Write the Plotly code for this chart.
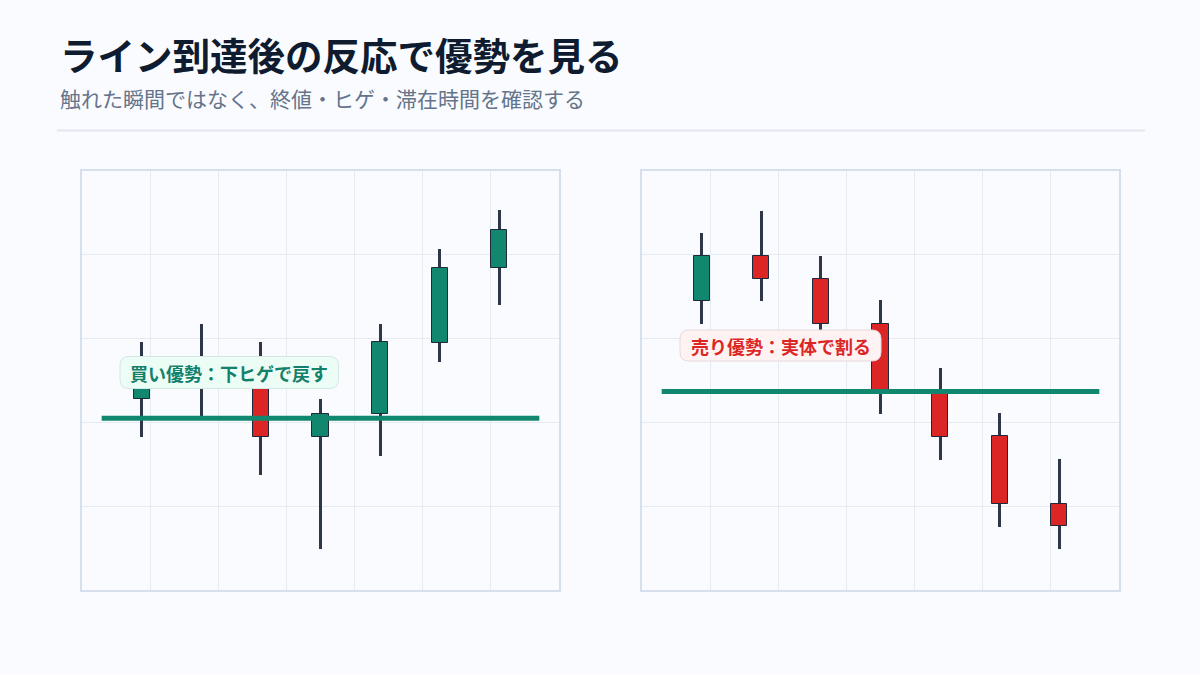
import plotly.graph_objects as go

W, H = 1200, 675

# ---------------- data ----------------
candles = [0, 1, 2, 3, 4, 5, 6]

buy_open  = [100.57, 101.00, 101.05, 99.66, 100.20, 101.90, 103.69]
buy_high  = [101.91, 102.36, 101.91, 100.57, 102.36, 104.15, 105.06]
buy_low   = [99.65, 100.10, 98.75, 96.98, 99.20, 101.44, 102.80]
buy_close = [101.20, 101.30, 99.66, 100.20, 101.91, 103.69, 104.60]
buy_level = 100.10

sell_open  = [102.90, 103.98, 103.43, 102.36, 100.68, 99.67, 98.05]
sell_high  = [104.51, 105.05, 103.98, 102.91, 101.29, 100.22, 99.13]
sell_low   = [102.35, 102.90, 102.08, 100.20, 99.11, 97.51, 96.97]
sell_close = [103.98, 103.43, 102.36, 100.75, 99.66, 98.05, 97.52]
sell_level = 100.74

line_span = [-0.67, 6.67]

title_text = "ライン到達後の反応で優勢を見る"
subtitle_text = "触れた瞬間ではなく、終値・ヒゲ・滞在時間を確認する"
buy_label = "買い優勢：下ヒゲで戻す"
sell_label = "売り優勢：実体で割る"

# ---------------- style ----------------
BG = "#f9fbff"
GREEN = "#12876f"
RED = "#dc2626"
WICK = "#2d3748"
OUTLINE = "#1e293b"
FONT = "Noto Sans CJK JP"


def px(x):
    return x / W


def py(y):
    return 1 - y / H


fig = go.Figure()


def add_panel(op, hi, lo, cl, level, xa, ya):
    fig.add_trace(go.Bar(
        x=candles, base=lo, y=[h - l for h, l in zip(hi, lo)],
        width=0.05, marker=dict(color=WICK, line=dict(width=0)),
        xaxis=xa, yaxis=ya, hoverinfo="skip", showlegend=False))
    fig.add_trace(go.Bar(
        x=candles, base=[min(o, c) for o, c in zip(op, cl)],
        y=[abs(c - o) for o, c in zip(op, cl)],
        width=0.27,
        marker=dict(color=[GREEN if c >= o else RED for o, c in zip(op, cl)],
                    line=dict(color=OUTLINE, width=1)),
        xaxis=xa, yaxis=ya, hoverinfo="skip", showlegend=False))
    fig.add_trace(go.Scatter(
        x=line_span, y=[level, level], mode="lines",
        line=dict(color=GREEN, width=5),
        xaxis=xa, yaxis=ya, hoverinfo="skip", showlegend=False))


add_panel(buy_open, buy_high, buy_low, buy_close, buy_level, "x", "y")
add_panel(sell_open, sell_high, sell_low, sell_close, sell_level, "x2", "y2")

ydom = [py(590), py(171)]
axis_common = dict(showline=True, mirror=True, linewidth=2, linecolor="#d6e0ec",
                   showgrid=True, gridcolor="#e6ebf2", gridwidth=1,
                   zeroline=False, showticklabels=False, ticks="", fixedrange=True)

fig.update_layout(
    width=W, height=H,
    margin=dict(l=0, r=0, t=0, b=0),
    paper_bgcolor=BG, plot_bgcolor=BG,
    barmode="overlay",
    bargap=0,
    font=dict(family=FONT),
    xaxis=dict(domain=[px(82), px(559)], range=[-1, 7], tickmode="linear",
               tick0=-1, dtick=8 / 7, anchor="y", **axis_common),
    yaxis=dict(domain=ydom, range=[96, 106], tickmode="linear", tick0=96,
               dtick=2, anchor="x", **axis_common),
    xaxis2=dict(domain=[px(642), px(1119)], range=[-1, 7], tickmode="linear",
                tick0=-1, dtick=8 / 7, anchor="y2", **axis_common),
    yaxis2=dict(domain=ydom, range=[96, 106], tickmode="linear", tick0=96,
                dtick=2, anchor="x2", **axis_common),
)


def rounded_rect(x0, y0, x1, y1, r):
    pts = [
        f"M {px(x0 + r)} {py(y0)}",
        f"L {px(x1 - r)} {py(y0)}",
        f"Q {px(x1)} {py(y0)} {px(x1)} {py(y0 + r)}",
        f"L {px(x1)} {py(y1 - r)}",
        f"Q {px(x1)} {py(y1)} {px(x1 - r)} {py(y1)}",
        f"L {px(x0 + r)} {py(y1)}",
        f"Q {px(x0)} {py(y1)} {px(x0)} {py(y1 - r)}",
        f"L {px(x0)} {py(y0 + r)}",
        f"Q {px(x0)} {py(y0)} {px(x0 + r)} {py(y0)}",
        "Z",
    ]
    return " ".join(pts)


shapes = [
    dict(type="line", xref="paper", yref="paper", x0=px(57), x1=px(1145),
         y0=py(130.5), y1=py(130.5), line=dict(color="#e2e8f0", width=2)),
    dict(type="path", xref="paper", yref="paper",
         path=rounded_rect(120, 356.5, 338.5, 388.5, 9),
         fillcolor="#ecfdf5", line=dict(color="#d3e6e4", width=1)),
    dict(type="path", xref="paper", yref="paper",
         path=rounded_rect(680, 330, 881, 361, 9),
         fillcolor="#fef2f2", line=dict(color="#e7d9df", width=1)),
]
fig.update_layout(shapes=shapes)

annotations = [
    dict(text=f"<b>{title_text}</b>", xref="paper", yref="paper", x=px(58), y=py(54),
         xanchor="left", yanchor="middle", showarrow=False,
         font=dict(size=37.5, color="#0f1b2e", family=FONT)),
    dict(text=subtitle_text, xref="paper", yref="paper", x=px(57.5), y=py(98.5),
         xanchor="left", yanchor="middle", showarrow=False,
         font=dict(size=21, color="#64748b", family=FONT)),
    dict(text=f"<b>{buy_label}</b>", xref="paper", yref="paper",
         x=px(229.2), y=py(372.5), xanchor="center", yanchor="middle",
         showarrow=False, font=dict(size=18, color="#12806a", family=FONT)),
    dict(text=f"<b>{sell_label}</b>", xref="paper", yref="paper",
         x=px(780.5), y=py(345.5), xanchor="center", yanchor="middle",
         showarrow=False, font=dict(size=18, color=RED, family=FONT)),
]
fig.update_layout(annotations=annotations)

fig.write_html("out.html")
